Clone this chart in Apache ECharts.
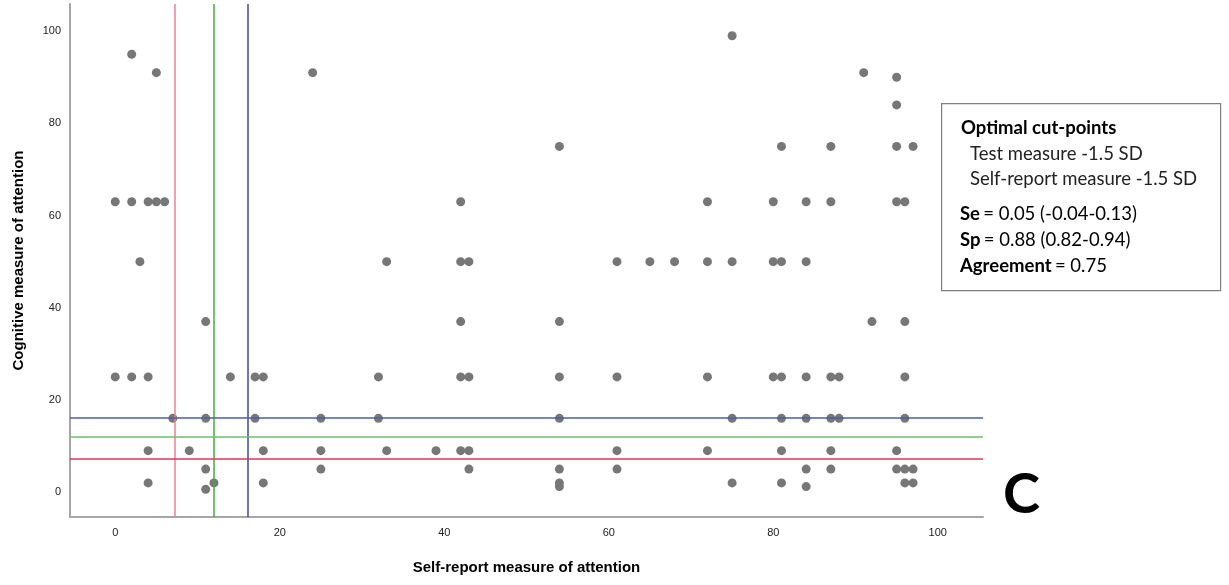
<!DOCTYPE html>
<html>
<head>
<meta charset="utf-8">
<script src="https://cdn.jsdelivr.net/npm/echarts@6/dist/echarts.min.js"></script>
<style>
html,body{margin:0;padding:0;background:#fff;}
#chart{width:1229px;height:585px;}
</style>
</head>
<body>
<div id="chart"></div>
<script>
// Self-report measure (x) and cognitive measure (y) per participant
const selfReport = [
  2,5,24, 0,2,4,5,6, 3, 11, 0,2,4,14,17,18, 7,11,17,25, 4,9,18,25, 11,25, 4,12,18, 11,
  54,42, 33,42,43,61,65, 42,54, 32,42,43,54,61, 32,54, 33,39,42,43,61, 43,54,61, 54,54,
  75,91,95,95, 81,87,95,97, 72,80,84,87,95,96, 68,72,75,80,81,84, 92,96,
  72,80,81,84,87,88,96, 75,81,84,87,88,96, 72,81,87,95, 84,87,95,96,97, 75,81,96,97, 84
];
const cognitive = [
  95,91,91, 63,63,63,63,63, 50, 37, 25,25,25,25,25,25, 16,16,16,16, 9,9,9,9, 5,5, 2,2,2, 0.6,
  75,63, 50,50,50,50,50, 37,37, 25,25,25,25,25, 16,16, 9,9,9,9,9, 5,5,5, 2,1.2,
  99,91,90,84, 75,75,75,75, 63,63,63,63,63,63, 50,50,50,50,50,50, 37,37,
  25,25,25,25,25,25,25, 16,16,16,16,16,16, 9,9,9,9, 5,5,5,5,5, 2,2,2,2, 1.2
];
// Cut-point lines: value, vertical colour, horizontal colour
const cutValuesX = [7.2, 12, 16.1];
const cutValuesY = [7.2, 12.1, 16.2];
const cutColorsV = ['#ef7f98', '#3fae3f', '#3a4a9e'];
const cutColorsH = ['#d8395a', '#6cbf6c', '#4b5ca8'];
const tickValues = [0, 20, 40, 60, 80, 100];
// Annotation box lines
const boxTitle = 'Optimal cut-points';
const boxSubLines = ['Test measure -1.5 SD', 'Self-report measure -1.5 SD'];
const statNames = ['Se', 'Sp', 'Agreement'];
const statValues = ['= 0.05 (-0.04-0.13)', '= 0.88 (0.82-0.94)', '= 0.75'];

const points = selfReport.map((x, i) => [x, cognitive[i]]);

const markData = [];
cutValuesX.forEach((v, i) => markData.push({xAxis: v, lineStyle: {color: cutColorsV[i], width: 1.5, type: 'solid'}}));
cutValuesY.forEach((v, i) => markData.push({yAxis: v, lineStyle: {color: cutColorsH[i], width: 1.5, type: 'solid'}}));

const boxFont = 'Lato, Open Sans, sans-serif';
const graphics = [
  {
    type: 'rect', left: 941, top: 103,
    shape: {width: 279, height: 187},
    style: {fill: '#fff', stroke: '#808080', lineWidth: 1.2}
  },
  {
    type: 'text', left: 961, top: 119,
    style: {text: boxTitle, fontFamily: boxFont, fontSize: 18.5, fontWeight: 'bold', fill: '#000'}
  }
];
boxSubLines.forEach((t, i) => graphics.push({
  type: 'text', left: 970, top: 145 + i * 25,
  style: {text: t, fontFamily: boxFont, fontSize: 18.5, fill: '#222'}
}));
statNames.forEach((n, i) => graphics.push({
  type: 'text', left: 960, top: 205 + i * 26,
  style: {
    text: '{b|' + n + '} {n|' + statValues[i] + '}',
    rich: {
      b: {fontFamily: boxFont, fontSize: 18.5, fontWeight: 'bold', color: '#000', lineHeight: 22},
      n: {fontFamily: boxFont, fontSize: 18.5, color: '#222', lineHeight: 22}
    }
  }
}));
graphics.push({
  type: 'text', left: 1003, top: 467,
  style: {text: 'C', fontFamily: boxFont, fontSize: 56, fontWeight: 'bold', fill: '#000'}
});

const chart = echarts.init(document.getElementById('chart'), null, {renderer: 'canvas'});
const axisCommon = {
  type: 'value',
  splitLine: {show: false},
  axisTick: {show: false},
  axisLine: {show: true, onZero: false, lineStyle: {color: '#a6a6a6', width: 2}},
  axisLabel: {customValues: tickValues, color: '#222', fontSize: 11, fontFamily: 'Liberation Sans, Arial, sans-serif'},
  nameTextStyle: {color: '#000', fontSize: 15, fontWeight: 'bold', fontFamily: 'Liberation Sans, Arial, sans-serif'}
};
chart.setOption({
  animation: false,
  backgroundColor: '#fff',
  grid: {left: 70, right: 246, top: 4, bottom: 68, containLabel: false},
  xAxis: Object.assign({}, axisCommon, {
    min: -5.5, max: 105.5,
    name: 'Self-report measure of attention', nameLocation: 'middle', nameGap: 43,
    axisLabel: Object.assign({}, axisCommon.axisLabel, {margin: 10})
  }),
  yAxis: Object.assign({}, axisCommon, {
    min: -5.4, max: 105.9,
    name: 'Cognitive measure of attention', nameLocation: 'middle', nameGap: 44,
    axisLabel: Object.assign({}, axisCommon.axisLabel, {margin: 9})
  }),
  series: [{
    type: 'scatter',
    data: points,
    symbolSize: 9,
    itemStyle: {color: '#777777', opacity: 1},
    markLine: {
      silent: true,
      symbol: 'none',
      label: {show: false},
      data: markData
    },
    z: 3
  }],
  graphic: graphics
});
</script>
</body>
</html>
